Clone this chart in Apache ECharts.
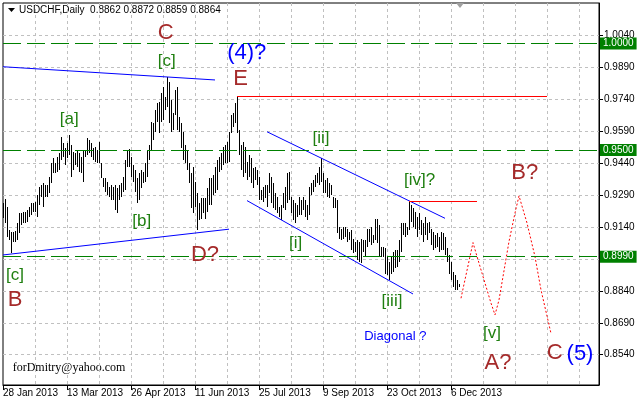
<!DOCTYPE html>
<html><head><meta charset="utf-8">
<script src="https://cdn.jsdelivr.net/npm/echarts@6/dist/echarts.min.js"></script>
<style>html,body{margin:0;padding:0;background:#fff}#c{width:638px;height:402px}</style>
</head><body><div id="c"></div>
<script>
// ---------- data ----------
const tickLabels = ['28 Jan 2013','13 Mar 2013','26 Apr 2013','11 Jun 2013','25 Jul 2013','9 Sep 2013','23 Oct 2013','6 Dec 2013'];
const yTicks = [0.8540,0.8690,0.8840,0.8990,0.9140,0.9290,0.9440,0.9590,0.9740,0.9890,1.0040];
const highs = [
0.9250,0.9269,0.9234,0.9124,0.9116,0.9116,0.9121,0.9156,0.9203,0.9203,
0.9210,0.9210,0.9218,0.9234,0.9250,0.9250,0.9257,0.9289,0.9328,0.9336,
0.9344,0.9336,0.9336,0.9375,0.9438,0.9461,0.9438,0.9469,0.9485,0.9563,
0.9531,0.9508,0.9531,0.9571,0.9524,0.9492,0.9485,0.9500,0.9485,0.9469,
0.9500,0.9500,0.9555,0.9547,0.9535,0.9508,0.9516,0.9500,0.9539,0.9438,
0.9367,0.9367,0.9351,0.9328,0.9336,0.9328,0.9336,0.9320,0.9336,0.9344,
0.9375,0.9453,0.9500,0.9503,0.9469,0.9430,0.9406,0.9367,0.9391,0.9406,
0.9398,0.9438,0.9500,0.9524,0.9633,0.9625,0.9688,0.9719,0.9727,0.9766,
0.9797,0.9750,0.9844,0.9821,0.9735,0.9672,0.9782,0.9797,0.9657,0.9625,
0.9586,0.9524,0.9500,0.9438,0.9391,0.9422,0.9351,0.9297,0.9250,0.9273,
0.9273,0.9273,0.9320,0.9367,0.9367,0.9383,0.9422,0.9453,0.9469,0.9485,
0.9516,0.9524,0.9539,0.9586,0.9664,0.9672,0.9719,0.9751,0.9594,0.9524,
0.9539,0.9516,0.9445,0.9477,0.9461,0.9414,0.9422,0.9406,0.9375,0.9312,
0.9328,0.9336,0.9336,0.9391,0.9375,0.9344,0.9297,0.9281,0.9234,0.9242,
0.9297,0.9328,0.9391,0.9398,0.9281,0.9265,0.9250,0.9242,0.9281,0.9265,
0.9281,0.9265,0.9242,0.9328,0.9344,0.9359,0.9383,0.9391,0.9422,0.9461,
0.9391,0.9359,0.9367,0.9344,0.9336,0.9281,0.9273,0.9265,0.9140,0.9132,
0.9140,0.9140,0.9132,0.9116,0.9124,0.9085,0.9070,0.9078,0.9070,0.9085,
0.9078,0.9078,0.9132,0.9132,0.9140,0.9101,0.9179,0.9179,0.9148,0.9046,
0.9046,0.9039,0.8999,0.8976,0.8999,0.9023,0.9031,0.9031,0.9078,0.9156,
0.9156,0.9156,0.9140,0.9258,0.9242,0.9226,0.9210,0.9187,0.9203,0.9171,
0.9156,0.9187,0.9156,0.9164,0.9132,0.9116,0.9101,0.9109,0.9093,0.9116,
0.9109,0.9093,0.9039,0.9007,0.8976,0.8929,0.8913,0.8890,0.8872];
const lows = [
0.9180,0.9156,0.9093,0.9078,0.9018,0.9069,0.9069,0.9078,0.9109,0.9148,
0.9156,0.9156,0.9163,0.9187,0.9195,0.9210,0.9210,0.9187,0.9242,0.9281,
0.9234,0.9281,0.9281,0.9297,0.9344,0.9391,0.9391,0.9398,0.9406,0.9453,
0.9469,0.9430,0.9461,0.9477,0.9375,0.9406,0.9430,0.9422,0.9398,0.9391,
0.9351,0.9469,0.9477,0.9485,0.9469,0.9453,0.9445,0.9438,0.9438,0.9367,
0.9328,0.9304,0.9289,0.9281,0.9265,0.9265,0.9218,0.9203,0.9265,0.9281,
0.9304,0.9312,0.9422,0.9422,0.9375,0.9351,0.9304,0.9251,0.9265,0.9320,
0.9344,0.9351,0.9375,0.9453,0.9500,0.9547,0.9586,0.9633,0.9578,0.9633,
0.9641,0.9688,0.9703,0.9625,0.9586,0.9594,0.9664,0.9594,0.9586,0.9508,
0.9453,0.9438,0.9406,0.9344,0.9226,0.9203,0.9234,0.9124,0.9171,0.9179,
0.9203,0.9179,0.9210,0.9242,0.9242,0.9289,0.9297,0.9312,0.9398,0.9406,
0.9430,0.9438,0.9438,0.9445,0.9578,0.9609,0.9625,0.9578,0.9477,0.9406,
0.9375,0.9391,0.9359,0.9375,0.9344,0.9320,0.9359,0.9336,0.9265,0.9265,
0.9257,0.9273,0.9234,0.9297,0.9250,0.9226,0.9218,0.9203,0.9187,0.9171,
0.9226,0.9218,0.9250,0.9265,0.9203,0.9171,0.9156,0.9187,0.9195,0.9195,
0.9218,0.9187,0.9171,0.9195,0.9289,0.9304,0.9328,0.9344,0.9336,0.9351,
0.9297,0.9297,0.9281,0.9273,0.9289,0.9226,0.9226,0.9109,0.9085,0.9078,
0.9085,0.9093,0.9070,0.9078,0.9031,0.9015,0.9023,0.8984,0.8976,0.8968,
0.9023,0.8999,0.9046,0.9070,0.9054,0.9062,0.9078,0.9062,0.8999,0.8999,
0.8999,0.8921,0.8913,0.8890,0.8921,0.8929,0.8945,0.8952,0.8976,0.9023,
0.9101,0.9093,0.9101,0.9124,0.9164,0.9140,0.9132,0.9093,0.9124,0.9101,
0.9070,0.9101,0.9078,0.9109,0.9054,0.9031,0.9039,0.9046,0.9023,0.9031,
0.9031,0.9007,0.8976,0.8921,0.8890,0.8858,0.8843,0.8843,0.8859];
const levels = [1.0000, 0.9500, 0.9000];
const levelTags = ['1.0000', '0.9500', '0.8990'];
const projIdx = [229,235,237,244,246,248,253,256,258,262,266,269,274];
const projVal = [0.8805,0.9066,0.9001,0.8782,0.8727,0.8797,0.9071,0.9205,0.9285,0.9158,0.9000,0.8844,0.8640];
const blueLines = [
  [[0,0.9891],[106,0.9829]],
  [[0,0.9008],[113,0.9129]],
  [[132,0.9586],[221,0.9180]],
  [[122,0.9263],[205,0.8825]]
];
const redLines = [
  [[117,0.9751],[272,0.9751]],
  [[203,0.9258],[237,0.9258]]
];
const lastBar = '0.8862 0.8872 0.8859 0.8864';

// ---------- categories (weekdays) ----------
const N = 299;
const categories = [];
{
  const mon = ['Jan','Feb','Mar','Apr','May','Jun','Jul','Aug','Sep','Oct','Nov','Dec'];
  let d = new Date(Date.UTC(2013,0,28));
  while (categories.length < N) {
    const wd = d.getUTCDay();
    if (wd !== 0 && wd !== 6) categories.push(d.getUTCDate()+' '+mon[d.getUTCMonth()]+' '+d.getUTCFullYear());
    d = new Date(d.getTime()+86400000);
  }
}

const FONT = 'Liberation Sans';
const BROWN = '#a52a2a', GREEN = '#1f7f10', BLUE = '#0000ff';
function txt(x,y,s,color,size,extra){
  return Object.assign({type:'text', x:x, y:y, silent:true, z:50,
    style:{text:s, fill:color, font:size+'px "'+FONT+'"', align:'center', verticalAlign:'middle'}}, extra||{});
}
function segs(lines,color){
  return lines.map(l=>{
    const ls={color:color,width:1,type:'solid'};
    return [{coord:l[0],lineStyle:ls},{coord:l[1],lineStyle:ls}];
  });
}

const chart = echarts.init(document.getElementById('c'), null, {renderer:'canvas'});
chart.setOption({
  animation:false,
  backgroundColor:'#fff',
  grid:{left:3,right:39,top:3,bottom:17,show:true,borderColor:'#000',borderWidth:1},
  xAxis:{type:'category',data:categories,boundaryGap:false,
    axisLine:{show:true,lineStyle:{color:'#000',width:1}},
    axisTick:{show:true,length:5,interval:(i)=>i%32===0 && i<=224,lineStyle:{color:'#000'}},
    axisLabel:{interval:(i)=>i%32===0 && i<=224,formatter:(v,i)=>tickLabels[i/32]||'',
      align:'left',color:'#000',fontSize:10,fontFamily:FONT,margin:3},
    splitLine:{show:true,interval:(i)=>i%16===0 && i>0,lineStyle:{color:'#c0c0c0',type:[3,3]}}
  },
  yAxis:{type:'value',position:'right',min:0.8398,max:1.0190,scale:true,
    axisLine:{show:true,lineStyle:{color:'#000'}},
    axisTick:{show:true,length:4,customValues:yTicks,lineStyle:{color:'#000'}},
    axisLabel:{customValues:yTicks,formatter:(v)=>v.toFixed(4),color:'#000',fontSize:10,fontFamily:FONT,margin:5},
    splitLine:{show:true,lineStyle:{color:'#c0c0c0',type:[3,3]}}
  },
  series:[
    {type:'custom',silent:true,z:3,
      data:highs.map((h,i)=>[i,h,lows[i]]),
      encode:{x:0,y:[1,2]},
      renderItem:(params,api)=>{
        const hi=api.coord([api.value(0),api.value(1)]);
        const lo=api.coord([api.value(0),api.value(2)]);
        const x=Math.round(hi[0]);
        const y0=Math.round(hi[1]), y1=Math.round(lo[1]);
        return {type:'rect',shape:{x:x,y:y0,width:1,height:Math.max(1,y1-y0)},style:{fill:'#000'}};
      }
    },
    {type:'line',silent:true,z:4,data:[],symbol:'none',
      markLine:{silent:true,symbol:['none','none'],animation:false,precision:4,
        data:[].concat(segs(blueLines,'#0000ff'),segs(redLines,'#ff0000')),
        label:{show:false}
      }
    },
    {type:'line',silent:true,z:5,data:[],symbol:'none',
      markLine:{silent:true,symbol:['none','none'],animation:false,precision:4,
        lineStyle:{color:'#008000',width:1,type:[18,6]},
        data:levels.map((v,i)=>({yAxis:v,name:levelTags[i]})),
        label:{show:true,position:'end',distance:1,formatter:(p)=>p.name,
          backgroundColor:'#008000',color:'#fff',fontSize:10,fontFamily:FONT,padding:[1,3,0,3],lineHeight:11}
      }
    },
    {type:'line',silent:true,z:4,symbol:'none',
      data:projIdx.map((k,i)=>[k,projVal[i]]),
      lineStyle:{color:'#ff0000',width:1,type:[2,2]}
    }
  ],
  graphic:[
    {type:'polygon',silent:true,shape:{points:[[8,8],[15,8],[11.5,12]]},style:{fill:'#000'}},
    {type:'polygon',silent:true,shape:{points:[[456,3],[464,3],[460,8]]},style:{fill:'#a0a0a0'}},
    {type:'text',x:19,y:10.5,silent:true,style:{text:'USDCHF,Daily  '+lastBar,fill:'#000',font:'10px "'+FONT+'"',align:'left',verticalAlign:'middle'}},
    txt(165.7,33,'C',BROWN,22),
    txt(166.7,61.7,'[c]',GREEN,17),
    txt(246.7,53,'(4)?',BLUE,22),
    txt(240.7,79,'E',BROWN,22),
    txt(69.3,119.3,'[a]',GREEN,17),
    txt(321,138,'[ii]',GREEN,17),
    txt(419.7,180,'[iv]?',GREEN,17),
    txt(524.7,172.7,'B?',BROWN,22),
    txt(141.7,221.7,'[b]',GREEN,17),
    txt(205,255,'D?',BROWN,22),
    txt(295.7,243.3,'[i]',GREEN,17),
    txt(15,275,'[c]',GREEN,17),
    txt(15,300,'B',BROWN,22),
    txt(392,301.7,'[iii]',GREEN,17),
    txt(395.3,336,'Diagonal ?',BLUE,13),
    txt(492,333.3,'[v]',GREEN,17),
    txt(498,363.3,'A?',BROWN,22),
    txt(554.7,353.3,'C',BROWN,22),
    txt(580,354,'(5)',BLUE,22),
    {type:'text',x:12.7,y:368.3,silent:true,style:{text:'forDmitry@yahoo.com',fill:'#000',font:'12px "Liberation Serif"',align:'left',verticalAlign:'middle'}}
  ]
});
</script></body></html>
